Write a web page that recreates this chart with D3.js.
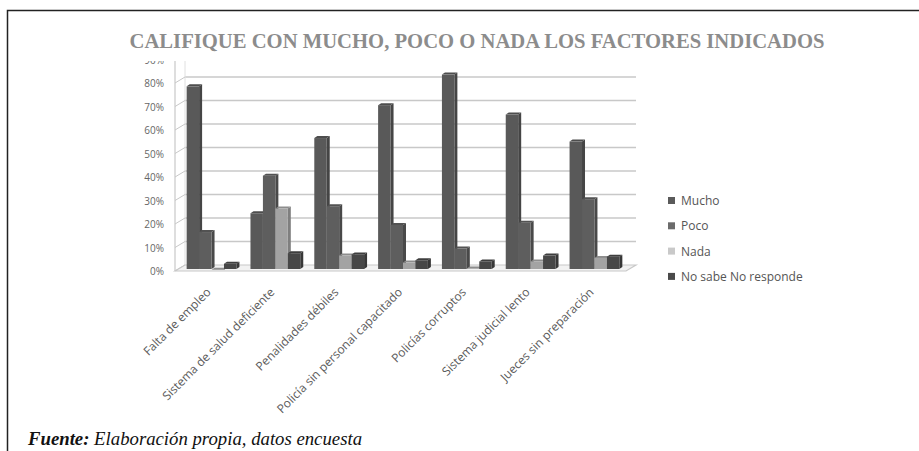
<!DOCTYPE html>
<html>
<head>
<meta charset="utf-8">
<script src="https://cdn.jsdelivr.net/npm/d3@7"></script>
<style>
  html, body { margin: 0; padding: 0; background: #fff; }
  svg { display: block; }
</style>
</head>
<body>
<script>
// chart data
const categories = ["Falta de empleo", "Sistema de salud deficiente", "Penalidades débiles",
    "Policía sin personal capacitado", "Policías corruptos", "Sistema judicial lento", "Jueces sin preparación"];
const seriesNames = ["Mucho", "Poco", "Nada", "No sabe No responde"];
const mucho = [79, 25, 57, 71, 84, 67, 55.5];
const poco = [17, 41, 28, 20, 10, 21, 31];
const nada = [1, 27, 7, 4, 1.5, 4.5, 6];
const noSabe = [3.5, 8, 7.5, 5, 4.5, 7, 6.5];
const yTicks = [0, 10, 20, 30, 40, 50, 60, 70, 80, 90];

const seriesValues = [mucho, poco, nada, noSabe];
const fills = ["#595959", "#5e5e5e", "#a3a3a3", "#474747"];
const legendFills = ["#5a5a5a", "#6b6b6b", "#c9c9c9", "#4a4a4a"];

document.addEventListener("DOMContentLoaded", function() {
    const svg = d3.select("body").append("svg")
        .attr("width", 919)
        .attr("height", 451);

    // frame
    svg.append("path")
        .attr("d", "M7.5,451 L7.5,10.5 L919,10.5")
        .attr("fill", "none")
        .attr("stroke", "#222")
        .attr("stroke-width", 1.5);

    svg.append("text")
        .attr("x", 477).attr("y", 47.5)
        .attr("text-anchor", "middle")
        .attr("font-family", "Liberation Serif, serif")
        .attr("font-weight", "bold")
        .attr("font-size", 22)
        .attr("fill", "#8c8c8c")
        .attr("textLength", 695)
        .attr("lengthAdjust", "spacingAndGlyphs")
        .text("CALIFIQUE CON MUCHO, POCO O NADA LOS FACTORES INDICADOS");

    // 3D offsets (depth)
    const dx = 10, dy = -6;

    const x = d3.scaleBand()
        .domain(categories)
        .range([178, 626])
        .paddingInner(0.22)
        .paddingOuter(0.12);

    const xs = d3.scaleBand()
        .domain(seriesNames)
        .range([0, x.bandwidth()]);

    const y = d3.scaleLinear()
        .domain([0, 90])
        .range([271, 59.5]);

    svg.append("defs").append("clipPath").attr("id", "clip")
        .append("rect").attr("x", 0).attr("y", 61).attr("width", 919).attr("height", 390);

    const g = svg.append("g").attr("clip-path", "url(#clip)");

    // back wall gridlines
    g.selectAll("line.grid")
        .data(yTicks.slice(1))
        .enter().append("line")
        .attr("x1", 175 + dx).attr("x2", 636)
        .attr("y1", d => y(d) + dy).attr("y2", d => y(d) + dy)
        .attr("stroke", "#c8c8c8").attr("stroke-width", 1.6);

    // left wall: axis line and tick connectors
    g.append("line")
        .attr("x1", 175).attr("x2", 175)
        .attr("y1", y(0)).attr("y2", y(90))
        .attr("stroke", "#c8c8c8").attr("stroke-width", 1.2);
    g.append("line")
        .attr("x1", 175 + dx).attr("x2", 175 + dx)
        .attr("y1", y(0) + dy).attr("y2", y(90) + dy)
        .attr("stroke", "#e0e0e0").attr("stroke-width", 1);
    g.selectAll("line.conn")
        .data(yTicks)
        .enter().append("line")
        .attr("x1", 175).attr("x2", 175 + dx)
        .attr("y1", d => y(d)).attr("y2", d => y(d) + dy)
        .attr("stroke", "#c8c8c8").attr("stroke-width", 1);

    // floor
    g.append("path")
        .attr("d", `M175,${y(0)} L${626},${y(0)} L${636},${y(0) + dy} L${175 + dx},${y(0) + dy} Z`)
        .attr("fill", "#f2f2f2")
        .attr("stroke", "#c8c8c8").attr("stroke-width", 1.2);

    // y labels
    g.selectAll("text.ylab")
        .data(yTicks)
        .enter().append("text")
        .attr("x", 164).attr("y", d => y(d) + 4)
        .attr("text-anchor", "end")
        .attr("font-family", "Open Sans, sans-serif")
        .attr("font-size", 10)
        .attr("fill", "#666")
        .text(d => d + "%");

    // bars, drawn left to right so each covers the previous side face
    const bdx = 3, bdy = -2;
    const barData = [];
    categories.forEach((c, i) => {
        seriesNames.forEach((s, j) => {
            barData.push({ cat: c, ser: s, j: j, v: seriesValues[j][i] });
        });
    });

    const bars = g.selectAll("g.bar")
        .data(barData)
        .enter().append("g");

    bars.each(function(d) {
        const el = d3.select(this);
        const x0 = x(d.cat) + xs(d.ser) + 1;
        const w = xs.bandwidth();
        const yb = y(0) - 2;
        const yt = y(d.v) + 1;
        const base = d3.color(fills[d.j]);
        el.append("path")
            .attr("d", `M${x0 + w},${yb} L${x0 + w + bdx},${yb + bdy} L${x0 + w + bdx},${yt + bdy} L${x0 + w},${yt} Z`)
            .attr("fill", base.darker(0.7));
        el.append("path")
            .attr("d", `M${x0},${yt} L${x0 + bdx},${yt + bdy} L${x0 + w + bdx},${yt + bdy} L${x0 + w},${yt} Z`)
            .attr("fill", base.darker(0.4));
        el.append("rect")
            .attr("x", x0).attr("y", yt)
            .attr("width", w).attr("height", Math.max(0, yb - yt))
            .attr("fill", base);
    });

    // category labels
    g.selectAll("text.xlab")
        .data(categories)
        .enter().append("text")
        .attr("transform", d => `translate(${x(d) + x.bandwidth() / 2 + 1},${293}) rotate(-45)`)
        .attr("text-anchor", "end")
        .attr("font-family", "Open Sans, sans-serif")
        .attr("font-size", 12)
        .attr("fill", "#5a5a5a")
        .text(d => d);

    // legend
    const leg = svg.append("g").attr("transform", "translate(668,201)");
    const li = leg.selectAll("g")
        .data(seriesNames)
        .enter().append("g")
        .attr("transform", (d, i) => `translate(0,${i * 25.3})`);
    li.append("rect")
        .attr("x", 0).attr("y", -4).attr("width", 7).attr("height", 7)
        .attr("fill", (d, i) => legendFills[i]);
    li.append("text")
        .attr("x", 13).attr("y", 4)
        .attr("font-family", "Open Sans, sans-serif")
        .attr("font-size", 12)
        .attr("fill", "#555")
        .text(d => d);

    // source
    const src = svg.append("text")
        .attr("x", 28).attr("y", 445)
        .attr("font-family", "Liberation Serif, serif")
        .attr("font-style", "italic")
        .attr("font-size", 18)
        .attr("fill", "#111")
        .attr("textLength", 334)
        .attr("lengthAdjust", "spacingAndGlyphs");
    src.append("tspan").attr("font-weight", "bold").text("Fuente:");
    src.append("tspan").text(" Elaboración propia, datos encuesta");
});
</script>
</body>
</html>
